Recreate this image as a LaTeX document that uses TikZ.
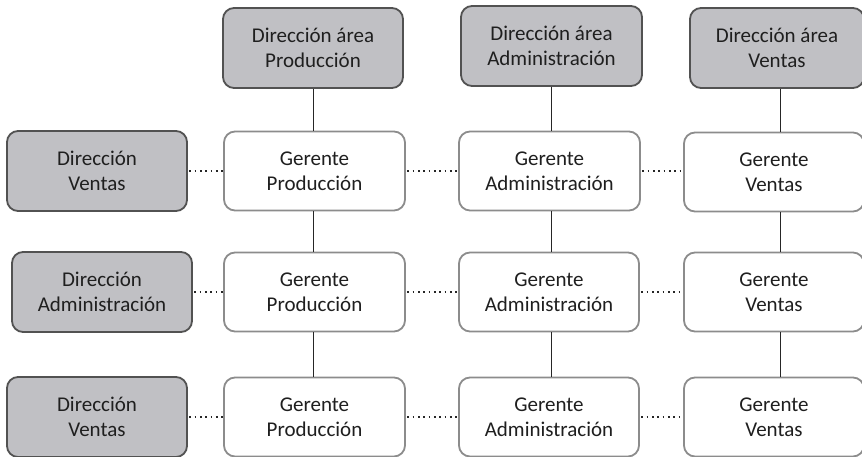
\documentclass[tikz,border=0pt]{standalone}
\usepackage{fontspec}
\setmainfont{Carlito}
\begin{document}
\begin{tikzpicture}[x=1pt,y=-1pt,
  every node/.style={font=\fontsize{21}{25}\selectfont, text=black!88, align=center, inner sep=0pt},
  dirbox/.style={draw=black!68, line width=1.8pt, fill={rgb,255:red,192;green,192;blue,196}, rounded corners=11pt, minimum width=180pt, minimum height=80pt},
  gerbox/.style={draw=black!45, line width=1.8pt, fill=white, rounded corners=11pt, minimum width=181pt, minimum height=79pt},
  solidlink/.style={draw=black!85, line width=1pt},
  dotlink/.style={draw=black!85, line width=1.7pt, dash pattern=on 1.7pt off 3.6pt, dash phase=-1.5pt}]
\useasboundingbox (0,0) rectangle (862,457);
\clip (0,0) rectangle (862,457);

% column axes for the vertical connectors
\coordinate (c1) at (313.5,0);
\coordinate (c2) at (551.5,0);
\coordinate (c3) at (780,0);

% area directions (top row)
\node[dirbox] (t1) at (313,48) {Dirección área\\Producción};
\node[dirbox, minimum width=181pt] (t2) at (551.5,46) {Dirección área\\Administración};
\node[dirbox, minimum width=174pt] (t3) at (777,48) {Dirección área\\Ventas};

% directions (left column)
\node[dirbox] (d1) at (97,171) {Dirección\\Ventas};
\node[dirbox] (d2) at (102,292) {Dirección\\Administración};
\node[dirbox] (d3) at (97,417) {Dirección\\Ventas};

% managers grid
\node[gerbox] (g11) at (314.5,171) {Gerente\\Producción};
\node[gerbox] (g12) at (549.5,171) {Gerente\\Administración};
\node[gerbox, minimum width=180pt] (g13) at (774,172) {Gerente\\Ventas};

\node[gerbox] (g21) at (314.5,292) {Gerente\\Producción};
\node[gerbox, minimum width=180pt] (g22) at (549,292) {Gerente\\Administración};
\node[gerbox, minimum width=180pt] (g23) at (774,292) {Gerente\\Ventas};

\node[gerbox] (g31) at (314.5,417) {Gerente\\Producción};
\node[gerbox, minimum width=180pt] (g32) at (549,417) {Gerente\\Administración};
\node[gerbox, minimum width=180pt] (g33) at (774,417) {Gerente\\Ventas};

% vertical reporting lines
\draw[solidlink] (t1.south -| c1) -- (g11.north -| c1);
\draw[solidlink] (g11.south -| c1) -- (g21.north -| c1);
\draw[solidlink] (g21.south -| c1) -- (g31.north -| c1);
\draw[solidlink] (t2.south -| c2) -- (g12.north -| c2);
\draw[solidlink] (g12.south -| c2) -- (g22.north -| c2);
\draw[solidlink] (g22.south -| c2) -- (g32.north -| c2);
\draw[solidlink] (t3.south -| c3) -- (g13.north -| c3);
\draw[solidlink] (g13.south -| c3) -- (g23.north -| c3);
\draw[solidlink] (g23.south -| c3) -- (g33.north -| c3);

% horizontal dotted links, kept level with the left box of each pair
\draw[dotlink] (d1.east) -- (d1.east -| g11.west);
\draw[dotlink] (g11.east) -- (g11.east -| g12.west);
\draw[dotlink] (g12.east) -- (g12.east -| g13.west);
\draw[dotlink] (d2.east) -- (d2.east -| g21.west);
\draw[dotlink] (g21.east) -- (g21.east -| g22.west);
\draw[dotlink] (g22.east) -- (g22.east -| g23.west);
\draw[dotlink] (d3.east) -- (d3.east -| g31.west);
\draw[dotlink] (g31.east) -- (g31.east -| g32.west);
\draw[dotlink] (g32.east) -- (g32.east -| g33.west);
\end{tikzpicture}
\end{document}
